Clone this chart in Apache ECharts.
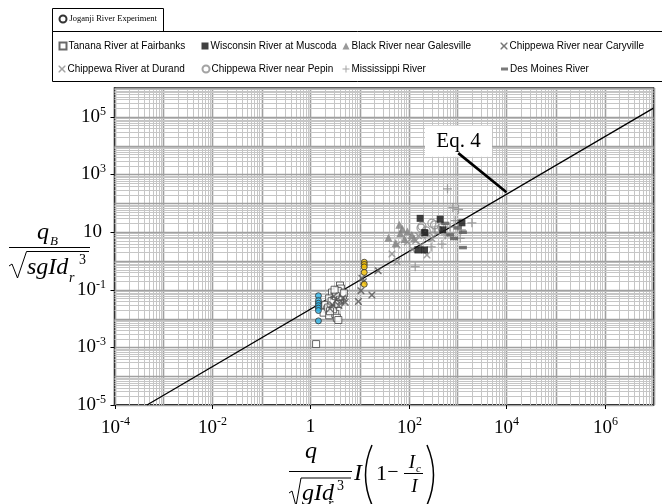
<!DOCTYPE html>
<html><head><meta charset="utf-8">
<script src="https://cdn.jsdelivr.net/npm/echarts@6/dist/echarts.min.js"></script>
<style>html,body{margin:0;padding:0;background:#fff}#c{width:662px;height:504px}</style>
</head><body><div id="c"></div>
<script>
// ---------- tick labels (exponents of 10) ----------
const xLabelExponents = [-4, -2, 0, 2, 4, 6];
const yLabelExponents = [-5, -3, -1, 1, 3, 5];

// ---------- data ----------
const jogBlueX   = [1.45, 1.45, 1.45, 1.45, 1.45, 1.45, 1.45];
const jogBlueY   = [0.062, 0.042, 0.034, 0.028, 0.023, 0.019, 0.0083];
const jogYellowX = [12.5, 12.5, 12.5, 12.5, 12.5];
const jogYellowY = [0.9, 0.75, 0.62, 0.4, 0.155];

const tananaX = [4.0, 3.5, 4.2, 2.75, 3.7, 4.6, 2.4, 3.05, 2.0, 2.6, 2.2, 1.85, 2.8, 2.4, 3.2, 3.45, 1.3, 3.5, 3.9, 3.0, 2.7, 4.4, 3.6, 2.3, 3.3, 4.0, 2.9, 3.7, 2.5, 3.1, 4.8, 3.7];
const tananaY = [0.14, 0.098, 0.11, 0.08, 0.072, 0.063, 0.05, 0.044, 0.030, 0.027, 0.021, 0.016, 0.016, 0.013, 0.0145, 0.0106, 0.0013, 0.05, 0.058, 0.036, 0.04, 0.08, 0.09, 0.024, 0.06, 0.045, 0.021, 0.032, 0.018, 0.1, 0.075, 0.0089];

const wisconsinX = [173, 443, 156, 212, 1230, 214, 500];
const wisconsinY = [30, 28, 2.4, 2.4, 21, 9.6, 12];

const blackRiverX = [65, 39, 68, 83, 95, 117, 75, 55, 130];
const blackRiverY = [17.8, 6.4, 9.2, 5.8, 10.4, 8, 13, 4.2, 6];

const caryvilleX = [5.1, 9.5, 10.7, 17.9, 12, 11.2, 24, 2.8, 3.4, 4.2, 3.8, 4.6, 2.5, 3.0];
const caryvilleY = [0.037, 0.039, 0.093, 0.066, 0.19, 0.25, 0.46, 0.03, 0.045, 0.04, 0.028, 0.052, 0.022, 0.06];

const durandX = [46, 58, 58, 95, 140, 180, 238, 300, 160, 220, 120];
const durandY = [1.75, 0.95, 3.6, 4.5, 5, 3.5, 1.6, 6, 7.5, 9, 2.5];

const pepinX = [180, 188, 210, 300, 340, 481, 260, 400, 230];
const pepinY = [13.8, 16, 8.9, 20.4, 17.8, 14.3, 6.5, 12, 11];

const mississippiX = [625, 805, 1047, 1966, 290, 137, 481, 1135, 700, 900, 350, 1200, 560];
const mississippiY = [316, 71, 62, 21, 3.06, 0.63, 3.8, 6.1, 15, 25, 10, 12, 8];

const desMoinesX = [1290, 1290, 710, 561, 1000, 850];
const desMoinesY = [9.9, 2.9, 8, 20, 14, 6];

// Eq. 4 line end points
const eqLineX = [4.6e-4, 1e7];
const eqLineY = [1e-5, 2e5];
// annotation anchor points (data coords)
const eqLabelAt = [1047, 14090];
const eqArrowFrom = [1037, 5500];
const eqArrowTo = [10000, 240];

// ---------- helpers ----------
function pairs(xs, ys) { return xs.map((x, i) => [x, ys[i]]); }
const SYM_X = 'path://M0,0L1.5,0L5,3.5L8.5,0L10,0L10,1.5L6.5,5L10,8.5L10,10L8.5,10L5,6.5L1.5,10L0,10L0,8.5L3.5,5L0,1.5Z';
const SYM_PLUS = 'path://M4.3,0H5.7V4.3H10V5.7H5.7V10H4.3V5.7H0V4.3H4.3Z';
const SERIF = 'Liberation Serif, Times New Roman, serif';
const SANS = 'Liberation Sans, Arial, sans-serif';

const gridRows = [];
for (let e = -4; e < 7; e++) for (let m = 1; m < 10; m++) gridRows.push([m * Math.pow(10, e), 1, 0, m === 1 ? 1 : 0]);
gridRows.push([1e7, 1, 0, 1]);
for (let e = -5; e < 6; e++) for (let m = 1; m < 10; m++) gridRows.push([1, m * Math.pow(10, e), 1, m === 1 ? 1 : 0]);
gridRows.push([1, 1e6, 1, 1]);

const tickRows = [];
xLabelExponents.forEach(e => tickRows.push([Math.pow(10, e), 1, 0, e]));
yLabelExponents.forEach(e => tickRows.push([1, Math.pow(10, e), 1, e]));

const labelRich = {
  b: { fontFamily: SERIF, fontSize: 19, fill: '#000', color: '#000' },
  s: { fontFamily: SERIF, fontSize: 12, fill: '#000', color: '#000', padding: [0, 0, 12, 0] }
};

function legendAt(name, left, top, extra) {
  return Object.assign({
    data: [name], left: left, top: top, orient: 'horizontal', padding: 0,
    itemWidth: 7, itemHeight: 7, selectedMode: false,
    textStyle: { fontFamily: SANS, fontSize: 10, color: '#000', padding: [0, 0, 0, -3] }
  }, extra || {});
}

const chart = echarts.init(document.getElementById('c'), null, { renderer: 'canvas', width: 662, height: 504 });

const option = {
  animation: false,
  backgroundColor: '#fff',
  grid: { left: 114.5, top: 88, width: 539, height: 317, show: true, borderColor: '#111', borderWidth: 1.5, backgroundColor: '#fff' },
  xAxis: {
    type: 'log', logBase: 10, min: 1e-4, max: 1e7,
    axisLine: { show: true, onZero: false, lineStyle: { color: '#000', width: 1.5 } },
    axisTick: { show: false }, splitLine: { show: false }, minorTick: { show: false },
    axisLabel: { show: false }
  },
  yAxis: {
    type: 'log', logBase: 10, min: 1e-5, max: 1e6,
    axisLine: { show: true, onZero: false, lineStyle: { color: '#000', width: 1.5 } },
    axisTick: { show: false }, splitLine: { show: false }, minorTick: { show: false },
    axisLabel: { show: false }
  },
  legend: [
    legendAt('Joganji River Experiment', 58.5, 14.5, { textStyle: { fontFamily: SERIF, fontSize: 8.5, color: '#000', padding: [0, 0, 0, -2] } }),
    legendAt('Tanana River at Fairbanks', 58.5, 41),
    legendAt('Wisconsin River at Muscoda', 201.5, 41),
    legendAt('Black River near Galesville', 342.5, 41),
    legendAt('Chippewa River near Caryville', 500.5, 41),
    legendAt('Chippewa River at Durand', 58.5, 64),
    legendAt('Chippewa River near Pepin', 201.5, 64),
    legendAt('Mississippi River', 342.5, 64),
    legendAt('Des Moines River', 501, 64, { itemWidth: 7, itemHeight: 3 })
  ],
  series: [
    {
      type: 'custom', name: 'grid', silent: true, z: 1, clip: false,
      data: gridRows,
      renderItem: function (params, api) {
        const cs = params.coordSys;
        const dir = api.value(2), major = api.value(3);
        const p = api.coord([api.value(0), api.value(1)]);
        const style = { stroke: major ? '#a0a0a0' : '#c6c6c6', lineWidth: major ? 1.6 : 1 };
        if (dir === 0) {
          const x = Math.round(p[0]) + 0.5;
          return { type: 'line', shape: { x1: x, y1: cs.y, x2: x, y2: cs.y + cs.height }, style: style };
        }
        const y = Math.round(p[1]) + 0.5;
        return { type: 'line', shape: { x1: cs.x, y1: y, x2: cs.x + cs.width, y2: y }, style: style };
      }
    },
    {
      type: 'custom', name: 'ticks', silent: true, z: 4, clip: false,
      data: tickRows,
      renderItem: function (params, api) {
        const cs = params.coordSys;
        const p = api.coord([api.value(0), api.value(1)]);
        const e = api.value(3);
        const lineStyle = { stroke: '#000', lineWidth: 1 };
        const children = [];
        if (api.value(2) === 0) {
          const x = Math.round(p[0]) + 0.5;
          const yb = cs.y + cs.height;
          children.push({ type: 'line', shape: { x1: x, y1: yb, x2: x, y2: yb + 4 }, style: lineStyle });
          if (e === 0) {
            children.push({ type: 'text', x: x, y: yb + 22, style: { text: '1', font: '19px ' + SERIF, fill: '#000', align: 'center', verticalAlign: 'middle', textAlign: 'center', textVerticalAlign: 'middle' } });
          } else {
            children.push({ type: 'text', x: x, y: yb + 11, style: { text: '{b|10}{s|' + e + '}', rich: labelRich, fill: '#000', align: 'center', verticalAlign: 'top', textAlign: 'center', textVerticalAlign: 'top' } });
          }
        } else {
          const y = Math.round(p[1]) + 0.5;
          children.push({ type: 'line', shape: { x1: cs.x - 4, y1: y, x2: cs.x, y2: y }, style: lineStyle });
          if (e === 1) {
            children.push({ type: 'text', x: cs.x - 12.5, y: y, style: { text: '10', font: '19px ' + SERIF, fill: '#000', align: 'right', verticalAlign: 'middle', textAlign: 'right', textVerticalAlign: 'middle' } });
          } else {
            children.push({ type: 'text', x: cs.x - 8.5, y: y, style: { text: '{b|10}{s|' + e + '}', rich: labelRich, fill: '#000', align: 'right', verticalAlign: 'middle', textAlign: 'right', textVerticalAlign: 'middle' } });
          }
        }
        return { type: 'group', children: children };
      }
    },
    {
      type: 'line', name: 'Eq. 4', z: 3, symbol: 'none', data: pairs(eqLineX, eqLineY),
      lineStyle: { color: '#000', width: 1.3 },
      markPoint: {
        z: 6, silent: true, symbol: 'rect', symbolSize: [67, 31], itemStyle: { color: '#fff' },
        label: { show: true, position: 'inside', formatter: 'Eq. 4', fontFamily: SERIF, fontSize: 21, color: '#000' },
        data: [{ coord: eqLabelAt }]
      },
      markLine: {
        z: 7, silent: true, symbol: ['none', 'arrow'], symbolSize: [0, 11],
        lineStyle: { color: '#000', width: 2.6, type: 'solid' }, label: { show: false },
        data: [[{ coord: eqArrowFrom }, { coord: eqArrowTo }]]
      }
    },
    { type: 'scatter', name: 'Tanana River at Fairbanks', z: 5, symbol: 'rect', symbolSize: 7, data: pairs(tananaX, tananaY),
      itemStyle: { color: '#fff', borderColor: '#444', borderWidth: 1 } },
    { type: 'scatter', name: 'Chippewa River near Caryville', z: 5, symbol: SYM_X, symbolSize: 7, data: pairs(caryvilleX, caryvilleY),
      itemStyle: { color: '#555' } },
    { type: 'scatter', name: 'Black River near Galesville', z: 5, symbol: 'triangle', symbolSize: 8, data: pairs(blackRiverX, blackRiverY),
      itemStyle: { color: '#808080' } },
    { type: 'scatter', name: 'Chippewa River at Durand', z: 5, symbol: SYM_X, symbolSize: 7, data: pairs(durandX, durandY),
      itemStyle: { color: '#8c8c8c' } },
    { type: 'scatter', name: 'Chippewa River near Pepin', z: 5, symbol: 'circle', symbolSize: 8, data: pairs(pepinX, pepinY),
      itemStyle: { color: 'rgba(255,255,255,0)', borderColor: '#8c8c8c', borderWidth: 1.3 } },
    { type: 'scatter', name: 'Mississippi River', z: 5, symbol: SYM_PLUS, symbolSize: 9, data: pairs(mississippiX, mississippiY),
      itemStyle: { color: '#8c8c8c' } },
    { type: 'scatter', name: 'Des Moines River', z: 5, symbol: 'rect', symbolSize: [8, 3.5], data: pairs(desMoinesX, desMoinesY),
      itemStyle: { color: '#595959' } },
    { type: 'scatter', name: 'Wisconsin River at Muscoda', z: 5, symbol: 'rect', symbolSize: 7, data: pairs(wisconsinX, wisconsinY),
      itemStyle: { color: '#111' } },
    { type: 'scatter', name: 'Joganji River Experiment', z: 6, symbol: 'circle', symbolSize: 6,
      itemStyle: { color: '#fff', borderColor: '#000', borderWidth: 2 },
      data: pairs(jogBlueX, jogBlueY).map(p => ({ value: p, itemStyle: { color: '#2fb4e6', borderColor: '#333', borderWidth: 1 } }))
        .concat(pairs(jogYellowX, jogYellowY).map(p => ({ value: p, itemStyle: { color: '#f5c000', borderColor: '#333', borderWidth: 1 } }))) }
  ],
  graphic: [
    // legend boxes
    { type: 'rect', shape: { x: 52.5, y: 8.5, width: 111, height: 23 }, style: { fill: 'none', stroke: '#000', lineWidth: 1 }, z: 10 },
    { type: 'rect', shape: { x: 52.5, y: 31.5, width: 630, height: 50 }, style: { fill: 'none', stroke: '#000', lineWidth: 1 }, z: 10 },
    // y-axis title
    { type: 'text', x: 43, y: 233, style: { text: 'q', font: 'italic 24px ' + SERIF, fill: '#000', textAlign: 'center', textVerticalAlign: 'middle' } },
    { type: 'text', x: 50, y: 242, style: { text: 'B', font: 'italic 13px ' + SERIF, fill: '#000', textAlign: 'left', textVerticalAlign: 'middle' } },
    { type: 'line', shape: { x1: 9, y1: 247.5, x2: 90, y2: 247.5 }, style: { stroke: '#000', lineWidth: 1 } },
    { type: 'polyline', shape: { points: [[9, 266], [12, 264], [17.5, 278], [26.5, 251.5], [89, 251.5]] }, style: { stroke: '#000', lineWidth: 1, fill: null } },
    { type: 'text', x: 27, y: 268, style: { text: 'sgId', font: 'italic 24px ' + SERIF, fill: '#000', textAlign: 'left', textVerticalAlign: 'middle' } },
    { type: 'text', x: 69, y: 278, style: { text: 'r', font: 'italic 14px ' + SERIF, fill: '#000', textAlign: 'left', textVerticalAlign: 'middle' } },
    { type: 'text', x: 79, y: 260, style: { text: '3', font: '14px ' + SERIF, fill: '#000', textAlign: 'left', textVerticalAlign: 'middle' } },
    // x-axis title
    { type: 'text', x: 311, y: 452, style: { text: 'q', font: 'italic 24px ' + SERIF, fill: '#000', textAlign: 'center', textVerticalAlign: 'middle' } },
    { type: 'line', shape: { x1: 289, y1: 471.5, x2: 352, y2: 471.5 }, style: { stroke: '#000', lineWidth: 1 } },
    { type: 'polyline', shape: { points: [[289, 493], [292, 491], [296, 506], [301, 478], [351, 478]] }, style: { stroke: '#000', lineWidth: 1, fill: null } },
    { type: 'text', x: 302, y: 494, style: { text: 'gId', font: 'italic 24px ' + SERIF, fill: '#000', textAlign: 'left', textVerticalAlign: 'middle' } },
    { type: 'text', x: 328, y: 504, style: { text: 'r', font: 'italic 14px ' + SERIF, fill: '#000', textAlign: 'left', textVerticalAlign: 'middle' } },
    { type: 'text', x: 337, y: 486, style: { text: '3', font: '14px ' + SERIF, fill: '#000', textAlign: 'left', textVerticalAlign: 'middle' } },
    { type: 'text', x: 358, y: 474, style: { text: 'I', font: 'italic 24px ' + SERIF, fill: '#000', textAlign: 'center', textVerticalAlign: 'middle' } },
    { type: 'bezierCurve', shape: { x1: 372, y1: 445, cpx1: 359, cpy1: 475, x2: 372, y2: 505 }, style: { stroke: '#000', lineWidth: 1.5, fill: null } },
    { type: 'text', x: 381.5, y: 474, style: { text: '1', font: '22px ' + SERIF, fill: '#000', textAlign: 'center', textVerticalAlign: 'middle' } },
    { type: 'text', x: 393, y: 473, style: { text: '\u2212', font: '20px ' + SERIF, fill: '#000', textAlign: 'center', textVerticalAlign: 'middle' } },
    { type: 'text', x: 412, y: 463, style: { text: 'I', font: 'italic 19px ' + SERIF, fill: '#000', textAlign: 'center', textVerticalAlign: 'middle' } },
    { type: 'text', x: 416, y: 469, style: { text: 'c', font: 'italic 11px ' + SERIF, fill: '#000', textAlign: 'left', textVerticalAlign: 'middle' } },
    { type: 'line', shape: { x1: 404, y1: 473.5, x2: 423, y2: 473.5 }, style: { stroke: '#000', lineWidth: 1 } },
    { type: 'text', x: 414.5, y: 487, style: { text: 'I', font: 'italic 19px ' + SERIF, fill: '#000', textAlign: 'center', textVerticalAlign: 'middle' } },
    { type: 'bezierCurve', shape: { x1: 427, y1: 445, cpx1: 440, cpy1: 475, x2: 427, y2: 505 }, style: { stroke: '#000', lineWidth: 1.5, fill: null } }
  ]
};
chart.setOption(option);
</script>
</body></html>
